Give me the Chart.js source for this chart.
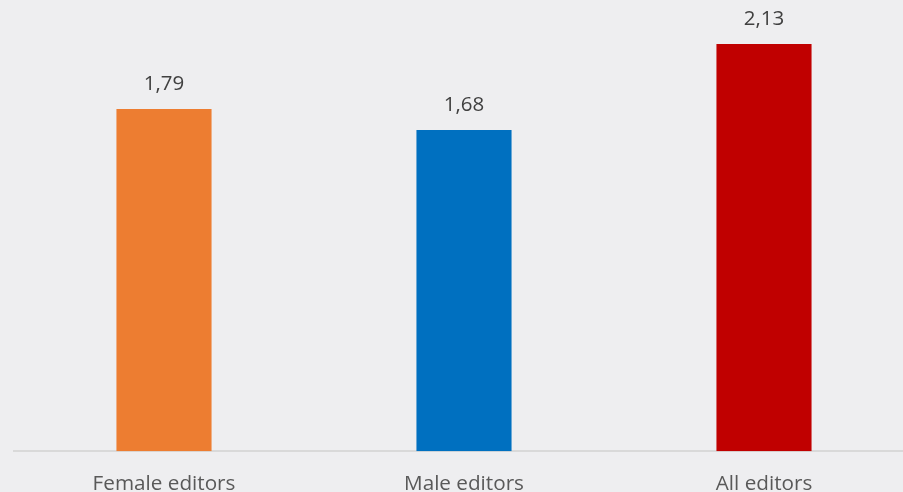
<!DOCTYPE html>
<html>
<head>
<meta charset="utf-8">
<script src="https://cdn.jsdelivr.net/npm/chart.js@4.4.0/dist/chart.umd.min.js"></script>
<style>
  html, body { margin: 0; padding: 0; background: #eeeef0; overflow: hidden; }
  #wrap { width: 916px; height: 510px; }
</style>
</head>
<body>
<div id="wrap"><canvas id="editors"></canvas></div>
<script>
var categories = ["Female editors", "Male editors", "All editors"];
var values = [1.79, 1.68, 2.13];
var barColors = ["#ed7d31", "#0070c0", "#c00000"];

// draws the value above each bar, with a comma as decimal sign
var valueLabels = {
  id: 'valueLabels',
  afterDatasetsDraw: function(chart) {
    var ctx = chart.ctx;
    var meta = chart.getDatasetMeta(0);
    ctx.save();
    ctx.font = '20.5px "Open Sans"';
    ctx.fillStyle = '#404040';
    ctx.textAlign = 'center';
    ctx.textBaseline = 'middle';
    meta.data.forEach(function(bar, i) {
      ctx.fillText(values[i].toFixed(2).replace('.', ','), bar.x, bar.y - 25);
    });
    ctx.restore();
  }
};

var ctx = document.getElementById("editors");
var data = {
  labels: categories,
  datasets: [{
    data: values,
    backgroundColor: barColors,
    categoryPercentage: 1,
    barPercentage: 0.317
  }]
};

var options = {
  responsive: true,
  maintainAspectRatio: false,
  animation: false,
  layout: { padding: { left: 14, right: 2, top: 0, bottom: 0 } },
  plugins: {
    legend: { display: false },
    tooltip: { enabled: false }
  },
  scales: {
    x: {
      grid: { display: false },
      border: { color: '#d9d9d9', width: 2 },
      ticks: { color: '#595959', font: { family: 'Open Sans', size: 20.7 }, padding: 13 }
    },
    y: {
      display: false,
      min: 0,
      max: 2.36
    }
  }
};

new Chart(ctx, { type: 'bar', data: data, options: options, plugins: [valueLabels] });
</script>
</body>
</html>
